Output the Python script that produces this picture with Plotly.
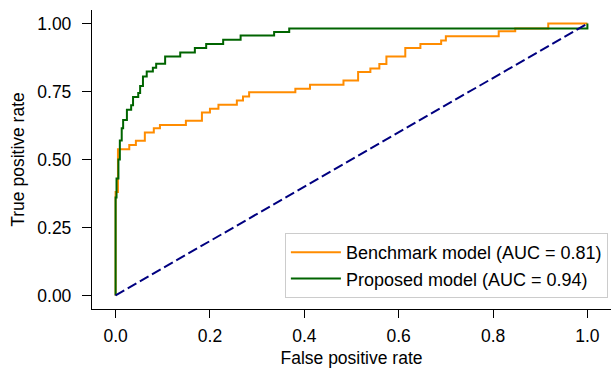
import plotly.graph_objects as go

# Benchmark model ROC (step corners: FPR at which TPR rises, new TPR)
bench_fpr = [0.0, 0.0, 0.005, 0.005, 0.029, 0.043, 0.062, 0.081, 0.094, 0.149, 0.183, 0.200,
             0.218, 0.257, 0.270, 0.283, 0.381, 0.412, 0.483, 0.514, 0.540, 0.559, 0.574,
             0.614, 0.646, 0.690, 0.700, 0.812, 0.847, 0.917, 1.0]
bench_tpr = [0.0, 0.38, 0.38, 0.538, 0.553, 0.569, 0.599, 0.615, 0.627, 0.643, 0.673, 0.687,
             0.701, 0.717, 0.732, 0.747, 0.760, 0.775, 0.791, 0.822, 0.835, 0.851, 0.879,
             0.910, 0.925, 0.938, 0.953, 0.972, 0.982, 1.0, 1.0]

# Proposed model ROC
prop_fpr = [0.0, 0.0, 0.002, 0.006, 0.009, 0.013, 0.016, 0.024, 0.033, 0.037, 0.048, 0.052,
            0.058, 0.066, 0.079, 0.086, 0.105, 0.137, 0.168, 0.192, 0.228, 0.265, 0.336,
            0.368, 0.99, 1.0]
prop_tpr = [0.0, 0.36, 0.43, 0.50, 0.57, 0.615, 0.645, 0.683, 0.70, 0.73, 0.745, 0.77,
            0.805, 0.824, 0.838, 0.852, 0.879, 0.894, 0.91, 0.925, 0.941, 0.956, 0.969,
            0.982, 0.982, 1.0]

chance = [0.0, 1.0]
x_ticks = [0.0, 0.2, 0.4, 0.6, 0.8, 1.0]
y_ticks = [0.0, 0.25, 0.5, 0.75, 1.0]

names = ["Benchmark model (AUC = 0.81)", "Proposed model (AUC = 0.94)"]

FONT = "Liberation Sans, Arial, sans-serif"
FS = 17.5

fig = go.Figure()
fig.add_trace(go.Scatter(x=bench_fpr, y=bench_tpr, mode="lines", name=names[0],
                         line=dict(color="#FF8C00", width=2, shape="hv")))
fig.add_trace(go.Scatter(x=prop_fpr, y=prop_tpr, mode="lines", name=names[1],
                         line=dict(color="#006400", width=2, shape="hv")))
fig.add_trace(go.Scatter(x=chance, y=chance, mode="lines", showlegend=False,
                         line=dict(color="#000080", width=2, dash="10px,4px")))

axis_common = dict(showline=True, linecolor="black", linewidth=1.3, ticks="outside",
                   tickwidth=1.3, tickcolor="black", showgrid=False,
                   zeroline=False, mirror=False, automargin=False,
                   tickfont=dict(family=FONT, size=FS, color="black"))

fig.update_layout(
    width=615, height=370,
    margin=dict(l=92, r=4, t=10, b=61),
    plot_bgcolor="white", paper_bgcolor="white",
    font=dict(family=FONT, size=FS, color="black"),
    xaxis=dict(range=[-0.05, 1.05], tickvals=x_ticks, tickformat=".1f",
               ticklen=8, ticklabelstandoff=3,
               title=dict(text="False positive rate", standoff=6,
                          font=dict(family=FONT, size=FS)),
               **axis_common),
    yaxis=dict(range=[-0.05, 1.05], tickvals=y_ticks, tickformat=".2f",
               ticklen=9, ticklabelstandoff=7,
               title=dict(text="True positive rate", standoff=8,
                          font=dict(family=FONT, size=FS)),
               **axis_common),
    legend=dict(x=0.994, y=0.037, xanchor="right", yanchor="bottom",
                bgcolor="white", bordercolor="#cccccc", borderwidth=1,
                font=dict(family=FONT, size=18, color="black"),
                tracegroupgap=0, itemwidth=50),
    showlegend=True,
)

fig.write_html("out.html")
